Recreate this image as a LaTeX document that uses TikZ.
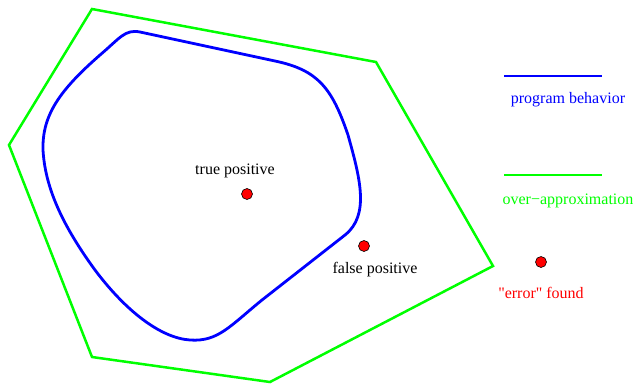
\documentclass[tikz,border=0pt]{standalone}
\usepackage{fontspec}
\setmainfont{Liberation Serif}[Ligatures=TeXOff]
\begin{document}
\begin{tikzpicture}[x=1pt,y=-1pt,
  approx/.style={draw={rgb,255:red,0;green,255;blue,0},line width=2.5pt,line join=miter},
  behav/.style={draw={rgb,255:red,0;green,0;blue,255},line width=2.8pt},
  dot/.style={circle,draw=black,line width=0.6pt,fill={rgb,255:red,255;green,0;blue,0},minimum size=11pt,inner sep=0pt},
  lbl/.style={font=\fontsize{16}{19}\selectfont,inner sep=0pt}]
\useasboundingbox (0,0) rectangle (636,384);
% over-approximation hexagon
\draw[approx] (92,9) -- (376,62) -- (493,266) -- (270,382) -- (92,357) -- (9,145) -- cycle;
% program behavior
\draw[behav] (140,32) -- (275,61)
  .. controls (318,70) and (332,88) .. (348,135)
  .. controls (360,178) and (370,215) .. (345,235)
  -- (262,300)
  .. controls (230,326) and (218,342) .. (190,340)
  .. controls (160,338) and (125,310) .. (95,270)
  .. controls (60,222) and (45,185) .. (43,150)
  .. controls (42,115) and (60,90) .. (100,55)
  .. controls (120,38) and (125,29) .. (140,32) -- cycle;
% dots
\node[dot] (tp) at (247,194) {};
\node[dot] (fp) at (364,246) {};
\node[dot] (err) at (541,262) {};
\node[lbl] (tpl) at (235,171) {true positive};
\node[lbl] (fpl) at (375,270) {false positive};
\node[lbl,text={rgb,255:red,255;green,0;blue,0}] (errl) at (541,293) {"error" found};
% legend
\coordinate (b1) at (504,76); \coordinate (b2) at (602,76);
\draw[behav] (b1) -- (b2);
\node[lbl,text={rgb,255:red,0;green,0;blue,255}] (bl) at (568,100) {program behavior};
\coordinate (g1) at (504,175); \coordinate (g2) at (602,175);
\draw[approx] (g1) -- (g2);
\node[lbl,text={rgb,255:red,0;green,255;blue,0}] (gl) at (568,201) {over−approximation};
\end{tikzpicture}
\end{document}
